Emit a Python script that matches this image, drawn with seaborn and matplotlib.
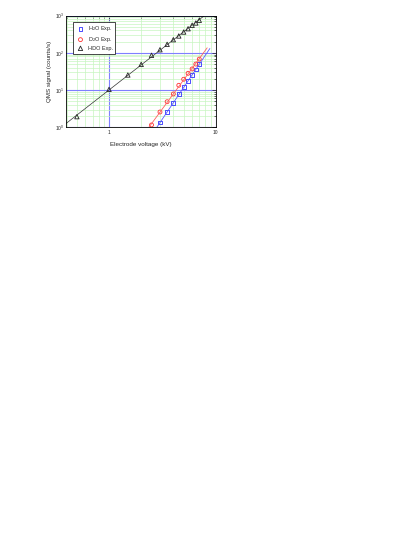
import numpy as np
import pandas as pd
import seaborn as sns
import matplotlib.pyplot as plt

hdo_v = [0.5, 1.0, 1.5, 2.0, 2.5, 3.0, 3.5, 4.0, 4.5, 5.0, 5.5, 6.0, 6.5, 7.0]
hdo_s = [1.95, 10.5, 25.5, 49, 86, 121, 169, 225, 283, 361, 443, 547, 630, 745]
d2o_v = [2.5, 3.0, 3.5, 4.0, 4.5, 5.0, 5.5, 6.0, 6.5, 7.0]
d2o_s = [1.17, 2.6, 4.9, 7.9, 13.5, 19.6, 28.3, 37, 50, 68]
h2o_v = [3.0, 3.5, 4.0, 4.5, 5.0, 5.5, 6.0, 6.5, 7.0]
h2o_s = [1.35, 2.6, 4.5, 7.8, 12, 17.6, 25, 36, 50]

sns.set_style("white")
plt.rcParams['font.family'] = ['Liberation Sans', 'DejaVu Sans']
plt.rcParams['mathtext.fontset'] = 'custom'
plt.rcParams['mathtext.rm'] = 'Liberation Sans'

fig = plt.figure(figsize=(4.15, 5.37), dpi=100)
ax = fig.add_axes([0.159, 0.7626, 0.361, 0.2085])
ax.set_xscale("log")
ax.set_yscale("log")
ax.set_xlim(0.395, 10)
ax.set_ylim(1, 1000)

# grid: blue major, light green minor
ax.grid(True, which="minor", color="#c8f5c0", linewidth=0.5)
ax.grid(True, which="major", color="#7f7fff", linewidth=0.8)
ax.set_axisbelow(True)

# power law fits in log-log space
def fit_line(v, s, lo, hi):
    b, a = np.polyfit(np.log10(v), np.log10(s), 1)
    xs = np.logspace(np.log10(lo), np.log10(hi), 50)
    return pd.DataFrame({"x": xs, "y": 10 ** (a + b * np.log10(xs))})

fh = fit_line(hdo_v, hdo_s, 0.395, 8)
fd = fit_line(d2o_v, d2o_s, 2.0, 8.3)
fw = fit_line(h2o_v, h2o_s, 2.4, 8.8)
sns.lineplot(data=fh, x="x", y="y", ax=ax, color="#333333", linewidth=0.5)
sns.lineplot(data=fd, x="x", y="y", ax=ax, color="#ff6060", linewidth=0.6)
sns.lineplot(data=fw, x="x", y="y", ax=ax, color="#5a5aff", linewidth=0.6)

sns.scatterplot(x=h2o_v, y=h2o_s, ax=ax, marker="s", s=7, facecolor="none",
                edgecolor="#3030ff", linewidth=0.6, label="H$_2$O Exp.")
sns.scatterplot(x=d2o_v, y=d2o_s, ax=ax, marker="o", s=8, facecolor="none",
                edgecolor="#ff3030", linewidth=0.6, label="D$_2$O Exp.")
sns.scatterplot(x=hdo_v, y=hdo_s, ax=ax, marker="^", s=10, facecolor="none",
                edgecolor="#222222", linewidth=0.6, label="HDO Exp.")

ax.set_xticks([1, 10])
ax.set_xticklabels(["1", "10"])
ax.set_yticks([1, 10, 100, 1000])
ax.set_yticklabels(["10$^0$", "10$^1$", "10$^2$", "10$^3$"])
ax.tick_params(which="both", direction="in", top=True, right=True,
               labelsize=3.5, width=0.5, pad=1.5)
ax.tick_params(which="major", length=3)
ax.tick_params(which="minor", length=1.5)
for sp in ax.spines.values():
    sp.set_linewidth(0.6)
    sp.set_color("black")

ax.set_xlabel("Electrode voltage (kV)", fontsize=4.5, labelpad=5)
ax.set_ylabel("QMS signal (counts/s)", fontsize=4.5, labelpad=2)

leg = ax.legend(loc="upper left", fontsize=4, frameon=True, fancybox=False,
                edgecolor="black", borderpad=0.5, handletextpad=0.5,
                handlelength=1.6, labelspacing=0.3,
                bbox_to_anchor=(0.03, 0.97))
leg.get_frame().set_linewidth(0.5)
leg.get_frame().set_facecolor("white")
leg.get_frame().set_alpha(1)

fig.savefig("out.png", dpi=100)
